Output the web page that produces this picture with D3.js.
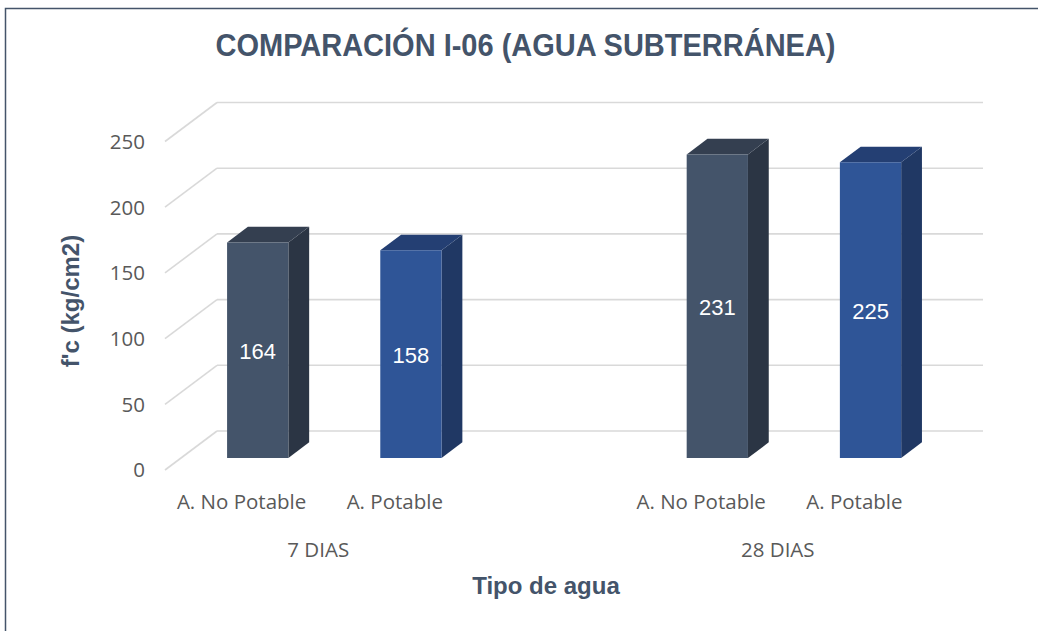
<!DOCTYPE html>
<html>
<head>
<meta charset="utf-8">
<script src="https://cdn.jsdelivr.net/npm/d3@7"></script>
<style>
	body { margin: 0; background: #fff; }
	svg { display: block; }
</style>
</head>
<body>
<div id="chart"></div>
<script>
// data
const groups = [ '7 DIAS', '28 DIAS' ]
const waterTypes = [ 'A. No Potable', 'A. Potable' ]
const noPotable = [ 164, 231 ]
const potable = [ 158, 225 ]
const yTicks = [ 0, 50, 100, 150, 200, 250 ]

const width = 1038
const height = 631
const floorFront = 470
const depth = {dx: 52, dy: -39} // full depth of the 3d box
const barDepth = [ 0.31, 0.71 ]  // where the bars sit inside that depth

const faceColors = [
	{front: '#44546A', side: '#2B3544', top: '#343F50'},
	{front: '#2F5597', side: '#203864', top: '#243F73'}
]

// one slot per bar, with an empty slot between the two groups
const slots = []
groups.forEach((g, gi) => {
	if (gi > 0) slots.push({key: 'gap' + gi})
	waterTypes.forEach((t, ti) => {
		const vals = ti === 0 ? noPotable : potable
		slots.push({key: g + '|' + t, group: g, type: t, typeIndex: ti, value: vals[ gi ]})
	})
})
const bars = slots.filter(d => d.value !== undefined)

const svg = d3.select('#chart').append('svg')
	.attr('width', width)
	.attr('height', height)

// chart border (only the top and left show inside the picture)
svg.append('rect')
	.attr('x', 5.5)
	.attr('y', 8.5)
	.attr('width', 1200)
	.attr('height', 800)
	.attr('fill', 'none')
	.attr('stroke', '#44546A')
	.attr('stroke-width', 1.5)

const x = d3.scaleBand()
	.domain(slots.map(d => d.key))
	.range([ 165, 983 - depth.dx ])
	.padding(0)

const y = d3.scaleLinear()
	.domain([ 0, 250 ])
	.range([ floorFront, 141.5 ])

const project = (px, v, t) => [ px + depth.dx * t, y(v) + depth.dy * t ]

// gridlines: diagonal on the side wall, flat on the back wall
const grid = svg.append('g')
	.attr('stroke', '#D9D9D9')
	.attr('stroke-width', 1.6)
	.attr('fill', 'none')

grid.selectAll('line.diag')
	.data(yTicks)
	.enter().append('line')
	.attr('class', 'diag')
	.attr('x1', x.range()[ 0 ])
	.attr('y1', d => y(d))
	.attr('x2', x.range()[ 0 ] + depth.dx)
	.attr('y2', d => y(d) + depth.dy)

grid.selectAll('line.back')
	.data(yTicks)
	.enter().append('line')
	.attr('class', 'back')
	.attr('x1', x.range()[ 0 ] + depth.dx)
	.attr('y1', d => y(d) + depth.dy)
	.attr('x2', x.range()[ 1 ] + depth.dx)
	.attr('y2', d => y(d) + depth.dy)

// y tick labels
svg.append('g')
	.selectAll('text')
	.data(yTicks)
	.enter().append('text')
	.attr('x', 145)
	.attr('y', d => y(d))
	.attr('dy', '0.36em')
	.attr('text-anchor', 'end')
	.style('font-family', '"Open Sans", sans-serif')
	.style('font-size', '20.5px')
	.style('fill', '#595959')
	.text(d => d)

// bars as three faces
const barW = x.bandwidth() * 0.4
const pts = arr => arr.map(p => p.join(',')).join(' ')

const bar = svg.append('g')
	.selectAll('g')
	.data(bars)
	.enter().append('g')

bar.each(function(d) {
	const g = d3.select(this)
	const c = faceColors[ d.typeIndex ]
	const l = x(d.key) + x.bandwidth() / 2 - barW / 2
	const r = l + barW
	const [ t0, t1 ] = barDepth
	const fl0 = project(l, 0, t0), fr0 = project(r, 0, t0)
	const fl1 = project(l, d.value, t0), fr1 = project(r, d.value, t0)
	const br0 = project(r, 0, t1)
	const bl1 = project(l, d.value, t1), br1 = project(r, d.value, t1)

	g.append('polygon')
		.attr('points', pts([ fr0, br0, br1, fr1 ]))
		.attr('fill', c.side)
	g.append('polygon')
		.attr('points', pts([ fl1, fr1, br1, bl1 ]))
		.attr('fill', c.top)
	g.append('polygon')
		.attr('points', pts([ fl0, fr0, fr1, fl1 ]))
		.attr('fill', c.front)

	g.append('text')
		.attr('x', (fl0[ 0 ] + fr0[ 0 ]) / 2)
		.attr('y', (fl0[ 1 ] + fl1[ 1 ]) / 2 + 1)
		.attr('dy', '0.36em')
		.attr('text-anchor', 'middle')
		.style('font-family', '"Liberation Sans", Arial, sans-serif')
		.style('font-size', '22px')
		.style('fill', '#fff')
		.text(d.value)
})

// category labels (front edge of the floor)
const labelFont = g => g
	.attr('text-anchor', 'middle')
	.style('font-family', '"Open Sans", sans-serif')
	.style('font-size', '20.5px')
	.style('fill', '#595959')

svg.append('g')
	.selectAll('text')
	.data(bars)
	.enter().append('text')
	.attr('x', d => x(d.key) + x.bandwidth() / 2)
	.attr('y', 502)
	.attr('dy', '0.36em')
	.call(labelFont)
	.text(d => d.type)

svg.append('g')
	.selectAll('text')
	.data(groups)
	.enter().append('text')
	.attr('x', g => d3.mean(bars.filter(d => d.group === g), d => x(d.key) + x.bandwidth() / 2))
	.attr('y', 550)
	.attr('dy', '0.36em')
	.call(labelFont)
	.text(d => d)

// titles
const titleColor = '#44546A'

svg.append('text')
	.attr('transform', 'translate(525.5,56) scale(1,1.1)')
	.attr('text-anchor', 'middle')
	.style('font-family', '"Liberation Sans", Arial, sans-serif')
	.style('font-weight', 'bold')
	.style('font-size', '29px')
	.style('fill', titleColor)
	.text('COMPARACIÓN I-06 (AGUA SUBTERRÁNEA)')

svg.append('text')
	.attr('x', 546)
	.attr('y', 585)
	.attr('dy', '0.36em')
	.attr('text-anchor', 'middle')
	.style('font-family', '"Liberation Sans", Arial, sans-serif')
	.style('font-weight', 'bold')
	.style('font-size', '24px')
	.style('fill', titleColor)
	.text('Tipo de agua')

svg.append('text')
	.attr('transform', 'translate(70,301) rotate(-90)')
	.attr('dy', '0.36em')
	.attr('text-anchor', 'middle')
	.style('font-family', '"Liberation Sans", Arial, sans-serif')
	.style('font-weight', 'bold')
	.style('font-size', '24px')
	.style('fill', titleColor)
	.text("f'c (kg/cm2)")
</script>
</body>
</html>
